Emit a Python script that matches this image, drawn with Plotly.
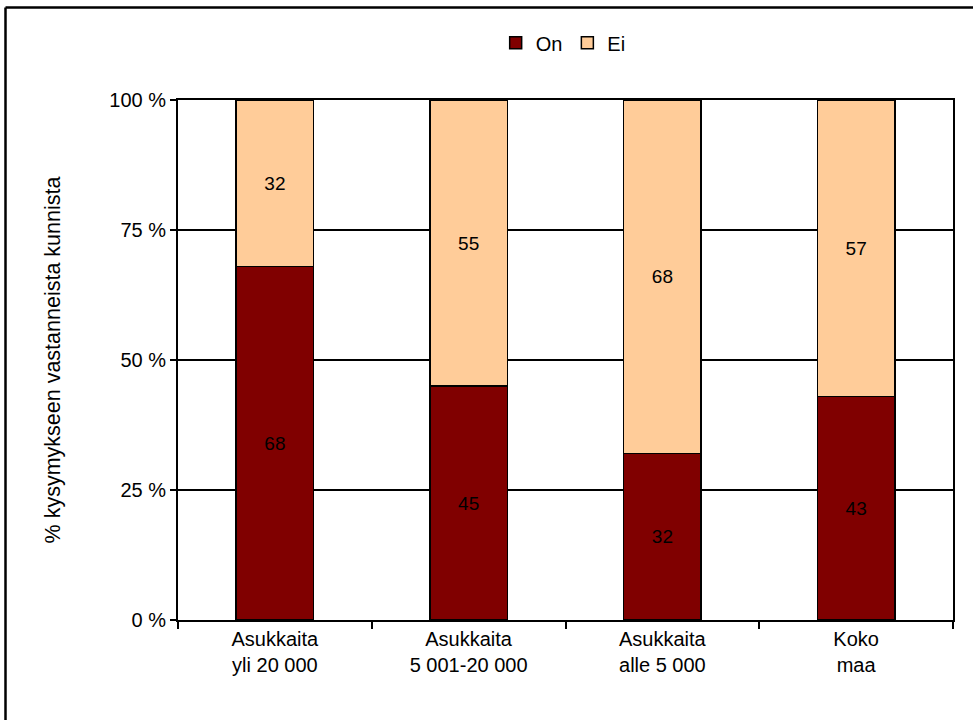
import plotly.graph_objects as go

# Data
kategoriat = ["Asukkaita<br>yli 20 000", "Asukkaita<br>5 001-20 000", "Asukkaita<br>alle 5 000", "Koko<br>maa"]
on = [68, 45, 32, 43]
ei = [32, 55, 68, 57]
y_tickvals = [0, 25, 50, 75, 100]
y_ticktext = ["0 %", "25 %", "50 %", "75 %", "100 %"]

fig = go.Figure()

fig.add_trace(go.Bar(
    x=kategoriat, y=on, name="On",
    marker=dict(color="#800000", line=dict(color="black", width=1.5)),
    text=on, textposition="inside", insidetextanchor="middle",
    textfont=dict(color="black", size=19),
    width=0.4,
))
fig.add_trace(go.Bar(
    x=kategoriat, y=ei, name="Ei",
    marker=dict(color="#FFCC99", line=dict(color="black", width=1.5)),
    text=ei, textposition="inside", insidetextanchor="middle",
    textfont=dict(color="black", size=19),
    width=0.4,
))

# Ulkokehys (kuvassa näkyy vain ylä- ja vasen reuna)
kx = (5.5 - 178) / 775
ky = (620 - 7.5) / 520
fig.add_shape(type="line", xref="paper", yref="paper",
              x0=kx, x1=1.1, y0=ky, y1=ky,
              line=dict(color="black", width=2.5))
fig.add_shape(type="line", xref="paper", yref="paper",
              x0=kx, x1=kx, y0=ky, y1=-0.3,
              line=dict(color="black", width=2.5))

fig.update_layout(
    width=973, height=720,
    barmode="stack",
    paper_bgcolor="white", plot_bgcolor="white",
    margin=dict(l=178, r=20, t=100, b=100),
    font=dict(family="Liberation Sans, Arial", size=20, color="black"),
    uniformtext=dict(mode="show", minsize=19),
    legend=dict(orientation="h", x=0.497, xanchor="center", y=1.11, yanchor="middle",
                font=dict(size=20), itemwidth=30, traceorder="normal"),
    showlegend=True,
)
fig.update_xaxes(
    showline=True, linecolor="black", linewidth=2, mirror=True,
    ticks="outside", tickson="boundaries", ticklen=7, tickcolor="black", tickwidth=2,
    showgrid=False,
)
fig.update_yaxes(
    range=[0, 100], tickvals=y_tickvals, ticktext=y_ticktext,
    showline=True, linecolor="black", linewidth=2, mirror=True,
    ticks="outside", ticklen=6, tickcolor="black", tickwidth=2,
    showgrid=True, gridcolor="black", gridwidth=1.5,
    title=dict(text="% kysymykseen vastanneista kunnista", standoff=43, font=dict(size=21.5)),
)

fig.write_html("out.html", config={"displayModeBar": False},
               post_script="document.body.style.margin='0';")
